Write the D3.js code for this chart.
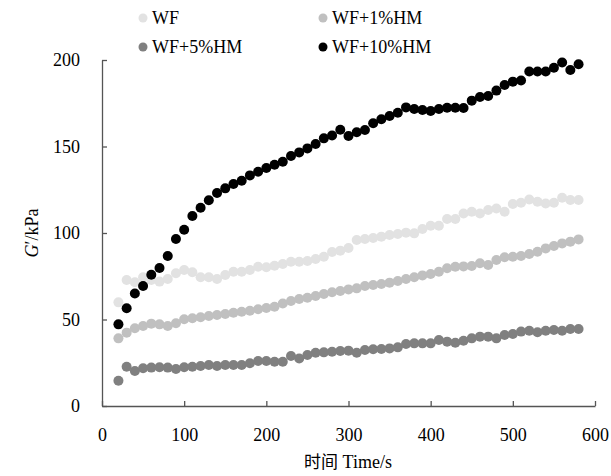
<!DOCTYPE html>
<html><head><meta charset="utf-8">
<script src="https://cdn.jsdelivr.net/npm/d3@7"></script>
<style>
html,body{margin:0;padding:0;background:#fff;}
text{font-family:"Liberation Serif","Times New Roman",serif;}
</style></head>
<body>
<svg id="chart" width="611" height="476"></svg>
<script>
const times = d3.range(20, 581, 10);
const seriesNames = ["WF", "WF+1%HM", "WF+5%HM", "WF+10%HM"];
const seriesColors = ["#e2e2e2", "#c0c0c0", "#808080", "#000000"];
const wf = [59.9,72.8,71.5,74.4,72.8,71.9,73.4,76.7,78.6,77.3,74.4,74.4,73.4,75.7,77.6,77.6,78.6,80.5,80.2,81.1,82.1,83.4,83.4,83.8,85.0,86.3,89.0,89.8,91.3,96.0,96.5,97.1,97.9,98.8,99.4,100.2,99.8,102.3,104.2,104.2,108.1,108.1,111.3,112.3,111.3,113.3,114.2,112.3,116.8,117.5,119.4,118.1,117.1,117.5,120.4,119.1,119.1];
const wf1 = [39.1,42.4,44.9,46.2,47.6,47.2,46.2,47.8,50.1,50.7,51.3,52.0,52.6,53.2,53.9,54.5,55.1,55.9,56.6,57.4,59.3,60.7,61.8,62.6,63.6,64.7,65.7,66.5,67.4,68.0,69.4,69.9,70.5,71.3,72.3,73.4,74.4,75.5,76.3,77.6,79.6,80.5,80.7,80.9,82.5,81.5,84.4,86.0,86.3,86.7,87.9,89.2,91.1,92.5,94.0,95.0,96.3];
const wf5 = [14.6,22.7,20.2,21.8,22.2,22.4,22.2,21.4,22.4,22.7,23.1,23.7,23.1,23.7,23.7,23.7,24.7,26.0,26.0,25.6,25.6,28.9,27.5,29.5,30.8,31.0,31.4,31.8,32.0,30.8,32.4,32.8,32.9,33.3,33.9,35.8,36.2,36.2,36.2,38.2,37.2,36.6,37.7,39.1,40.1,40.1,39.1,41.0,41.6,43.0,43.5,42.6,43.5,43.9,43.5,44.5,44.5];
const wf10 = [47.2,56.5,65.0,69.4,75.9,79.8,86.7,96.5,101.9,109.8,114.6,118.9,123.1,125.8,128.3,130.2,133.3,135.4,137.6,139.5,141.2,144.5,146.6,148.9,151.4,154.7,156.4,159.7,156.1,158.2,159.5,163.4,165.7,167.6,169.5,172.6,171.7,171.1,170.5,171.7,172.4,172.4,172.3,176.5,178.6,179.2,182.3,185.5,187.5,188.1,193.4,193.4,193.4,195.5,198.6,194.2,197.5];
const xTicks = [0,100,200,300,400,500,600];
const yTicks = [0,50,100,150,200];
const xTitle = "时间 Time/s";

const allSeries = [wf, wf1, wf5, wf10];
const svg = d3.select("#chart");
const x = d3.scaleLinear().domain([0,600]).range([102,595]);
const y = d3.scaleLinear().domain([0,200]).range([406,60]);
const axisColor = "#555";

const gx = svg.append("g").attr("transform","translate(0,406)")
  .call(d3.axisBottom(x).tickValues(xTicks).tickSizeInner(-5).tickSizeOuter(0).tickPadding(22).tickFormat(d3.format("d")));
const gy = svg.append("g").attr("transform","translate(102,0)")
  .call(d3.axisLeft(y).tickValues(yTicks).tickSizeInner(-5).tickSizeOuter(0).tickPadding(22).tickFormat(d3.format("d")));
[gx, gy].forEach(g => {
  g.select(".domain").attr("stroke", axisColor).attr("stroke-width", 1.3);
  g.selectAll(".tick line").attr("stroke", axisColor).attr("stroke-width", 1.3);
  g.selectAll(".tick text").attr("fill","#000").style("font-size","18px").style("font-family","'Liberation Serif',serif");
});

allSeries.forEach((vals, i) => {
  svg.append("g").selectAll("circle").data(vals).join("circle")
    .attr("cx", (d, j) => x(times[j]))
    .attr("cy", d => y(d))
    .attr("r", 5)
    .attr("fill", seriesColors[i]);
});

// legend
const legPos = [[143,18],[323,18],[143,47],[323,47]];
seriesNames.forEach((n, i) => {
  const [lx, ly] = legPos[i];
  svg.append("circle").attr("cx", lx).attr("cy", ly).attr("r", 4.5).attr("fill", seriesColors[i]);
  svg.append("text").attr("x", lx + 9).attr("y", ly + 6).style("font-size","18px").attr("fill","#000").text(n);
});

// axis titles
svg.append("text").attr("x", 348).attr("y", 468).attr("text-anchor","middle").style("font-size","18px")
  .call(t => {
    t.append("tspan").style("font-family","'Noto Sans CJK SC',sans-serif").style("font-size","17px").text("时间");
    t.append("tspan").text(" Time/s");
  });
const yt = svg.append("text").attr("transform","translate(38,233) rotate(-90)").attr("text-anchor","middle").style("font-size","18px");
yt.append("tspan").style("font-style","italic").text("G");
yt.append("tspan").text("′/kPa");
</script>
</body></html>
